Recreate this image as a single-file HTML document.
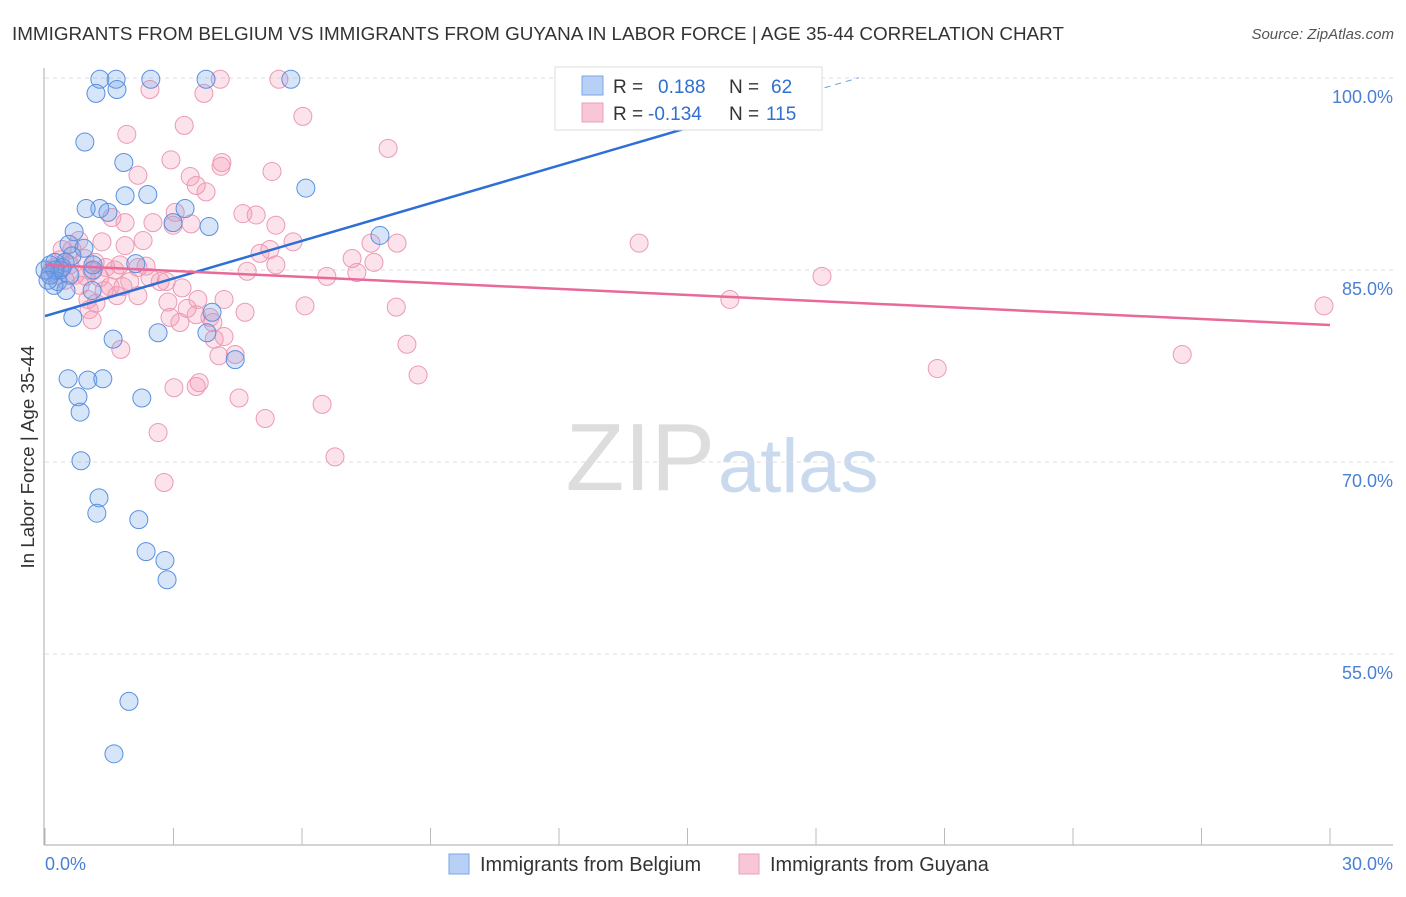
<!DOCTYPE html>
<html><head><meta charset="utf-8"><style>
body{margin:0;background:#fff;font-family:"Liberation Sans",sans-serif;}
svg text{font-family:"Liberation Sans",sans-serif;}
</style></head><body>
<svg id="c" width="1406" height="892">
<text x="12" y="40" font-size="18.85" fill="#333">IMMIGRANTS FROM BELGIUM VS IMMIGRANTS FROM GUYANA IN LABOR FORCE | AGE 35-44 CORRELATION CHART</text>
<text x="1394" y="39" font-size="15" fill="#555" font-style="italic" text-anchor="end">Source: ZipAtlas.com</text>
<text x="715" y="490" font-size="96" fill="#ddd" text-anchor="end" font-family="Liberation Serif">ZIP</text>
<text x="718" y="492" font-size="76" fill="#c9d9ee">atlas</text>
<text transform="translate(34,457) rotate(-90)" font-size="18.8" fill="#333" text-anchor="middle">In Labor Force | Age 35-44</text>
<g id="grid"></g><g id="pts"></g><g id="lines"></g>
<g>
<rect x="555" y="67" width="267" height="63" fill="#fff" stroke="#ddd"/>
<rect x="582" y="76" width="21" height="19" fill="#b8d0f5" stroke="#7aa6e6"/>
<rect x="582" y="103" width="21" height="19" fill="#f9c6d6" stroke="#eba0b8"/>
<text x="613" y="93" font-size="19" fill="#333">R = <tspan x="658" fill="#2f6fd0">0.188</tspan><tspan x="729" fill="#333">N = </tspan><tspan x="771" fill="#2f6fd0">62</tspan></text>
<text x="613" y="120" font-size="19" fill="#333">R = <tspan x="648" fill="#2f6fd0">-0.134</tspan><tspan x="729" fill="#333">N = </tspan><tspan x="766" fill="#2f6fd0">115</tspan></text>
</g>
<g>
<rect x="449" y="854" width="20" height="20" fill="#b8d0f5" stroke="#7aa6e6"/>
<text x="480" y="871" font-size="19.9" fill="#333">Immigrants from Belgium</text>
<rect x="739" y="854" width="20" height="20" fill="#f9c6d6" stroke="#eba0b8"/>
<text x="770" y="871" font-size="19.9" fill="#333">Immigrants from Guyana</text>
</g>
</svg>
<script>
const xTicks=[0,3,6,9,12,15,18,21,24,27,30];
const yTicks=[100,85,70,55];
const yTickLabels=["100.0%","85.0%","70.0%","55.0%"];
const xEndLabels=["0.0%","30.0%"];
const belgiumX=[1.28,1.66,2.47,3.76,5.74,1.19,1.68,0.93,1.84,1.87,2.40,1.28,0.96,1.47,3.27,2.99,3.83,6.09,7.82,0.68,0.56,0.91,0.63,0.47,0.23,0.12,0.35,0.58,0.30,0.49,0.21,1.12,2.12,1.10,0.65,1.59,2.64,3.78,3.90,4.44,0.54,1.00,1.35,0.77,0.82,2.26,0.84,1.26,1.21,2.19,2.36,2.80,2.85,1.96,1.61,14.36,0.12,0.40,0.23,0,0.07,1.12];
const belgiumY=[99.9,99.9,99.9,99.9,99.9,98.8,99.1,95.0,93.4,90.8,90.9,89.8,89.8,89.5,89.8,88.7,88.4,91.4,87.7,88.0,87.0,86.7,86.1,85.6,85.6,85.4,85.0,84.6,84.1,83.4,83.8,85.0,85.5,83.4,81.3,79.6,80.1,80.1,81.7,78.0,76.5,76.4,76.5,75.1,73.9,75.0,70.1,67.2,66.0,65.5,63.0,62.3,60.8,51.3,47.2,99.9,84.6,85.2,85.0,85.0,84.2,85.4];
const guyanaX=[4.09,5.46,2.45,3.71,6.02,1.91,3.25,8.01,2.94,2.17,4.13,4.11,3.39,3.53,3.76,5.30,4.62,4.93,5.39,3.04,2.99,2.52,1.56,1.87,0.79,1.33,1.87,2.29,3.41,5.79,5.25,5.02,7.17,7.61,8.22,7.68,7.28,6.58,4.72,5.39,2.36,1.75,1.42,1.10,1.28,0.96,1.98,1.52,1.82,2.17,1.68,2.87,3.20,4.18,4.67,3.32,2.92,3.15,1.00,1.03,1.10,6.07,8.20,15.99,18.14,13.87,29.86,26.55,20.83,8.45,8.71,1.77,4.06,4.44,3.95,3.01,3.60,3.53,4.53,6.47,5.14,2.64,6.77,2.78,0.40,0.58,0.70,0.23,0.47,0.82,0.35,0.63,0.93,1.17,0.12,0.30,1.38,2.45,2.69,3.85,3.92,1.19,1.63,2.17,2.83,3.53,4.18,3.57];
const guyanaY=[99.9,99.9,99.1,98.8,97.0,95.6,96.3,94.5,93.6,92.4,93.4,93.1,92.3,91.6,91.1,92.7,89.4,89.3,88.5,89.5,88.5,88.7,89.1,88.7,87.3,87.2,86.9,87.3,88.6,87.2,86.6,86.3,85.9,87.1,87.1,85.6,84.8,84.5,84.9,85.4,85.3,85.4,85.2,84.9,84.4,84.5,84.1,83.7,83.7,83.0,83.0,82.5,83.6,82.7,81.7,82.0,81.3,80.9,82.7,81.9,81.1,82.2,82.1,82.7,84.5,87.1,82.2,78.4,77.3,79.2,76.8,78.8,78.3,78.4,79.6,75.8,76.2,75.9,75.0,74.5,73.4,72.3,70.4,68.4,86.6,85.4,84.6,85.2,84.2,83.8,85.8,86.6,85.9,85.6,84.8,84.6,83.4,84.4,84.1,81.3,80.9,82.4,85.0,85.2,84.1,81.5,79.8,82.7];
const belgiumLine=[81.4,110.8];
const guyanaLine=[85.4,80.7];
const belgiumSolidEnd=15, belgiumDashEnd=19;

const NS="http://www.w3.org/2000/svg";
const X=v=>45+v/30*1285;
const Y=v=>78+(100-v)*12.8;
function mk(tag,attrs,parent){const e=document.createElementNS(NS,tag);for(const k in attrs)e.setAttribute(k,attrs[k]);parent.appendChild(e);return e;}
const grid=document.getElementById('grid'),pts=document.getElementById('pts'),lines=document.getElementById('lines');
let ax=mk('line',{x1:44,y1:68,x2:44,y2:845,stroke:'#aaa'},grid);


let bx=mk('line',{x1:44,y1:845,x2:1393,y2:845,stroke:'#aaa'},grid);


yTicks.forEach((t,i)=>{
 const g=mk('line',{x1:45,x2:1393,y1:Y(t),y2:Y(t),stroke:'#ddd','stroke-dasharray':'4,4'},grid);
 
 
 const tx=mk('text',{x:1393,y:Y(t)+25,'font-size':18,fill:'#4a7fd4','text-anchor':'end'},grid);
 tx.textContent=yTickLabels[i];
 
 
});
xTicks.forEach(t=>{
 const l=mk('line',{x1:X(t),x2:X(t),y1:828,y2:845,stroke:'#bbb'},grid);
 
 
});
[[0,'start',45],[30,'end',1393]].forEach((d,i)=>{
 const tx=mk('text',{x:d[2],y:870,'font-size':18,fill:'#4a7fd4','text-anchor':d[1]},grid);
 tx.textContent=xEndLabels[i];
 
 
});
function dots(xs,ys,fill,stroke,name){xs.forEach((x,i)=>{
 const c=mk('circle',{cx:X(x),cy:Y(ys[i]),r:9,fill:fill,stroke:stroke,'stroke-width':1},pts);
 
 
});}
dots(guyanaX,guyanaY,'rgba(243,150,180,0.28)','#ec9ab4','guyana-point');
dots(belgiumX,belgiumY,'rgba(110,160,235,0.28)','#5a90e0','belgium-point');
const by=x=>belgiumLine[0]+(belgiumLine[1]-belgiumLine[0])*x/30;
const gy=x=>guyanaLine[0]+(guyanaLine[1]-guyanaLine[0])*x/30;
let l1=mk('line',{x1:X(0),y1:Y(by(0)),x2:X(belgiumSolidEnd),y2:Y(by(belgiumSolidEnd)),stroke:'#2e6fd6','stroke-width':2.5},lines);


let l2=mk('line',{x1:X(belgiumSolidEnd),y1:Y(by(belgiumSolidEnd)),x2:X(belgiumDashEnd),y2:Y(by(belgiumDashEnd)),stroke:'#6a9be0','stroke-width':1,'stroke-dasharray':'6,5'},lines);


let l3=mk('line',{x1:X(0),y1:Y(gy(0)),x2:X(30),y2:Y(gy(30)),stroke:'#e8699a','stroke-width':2.5},lines);


</script>
</body></html>
